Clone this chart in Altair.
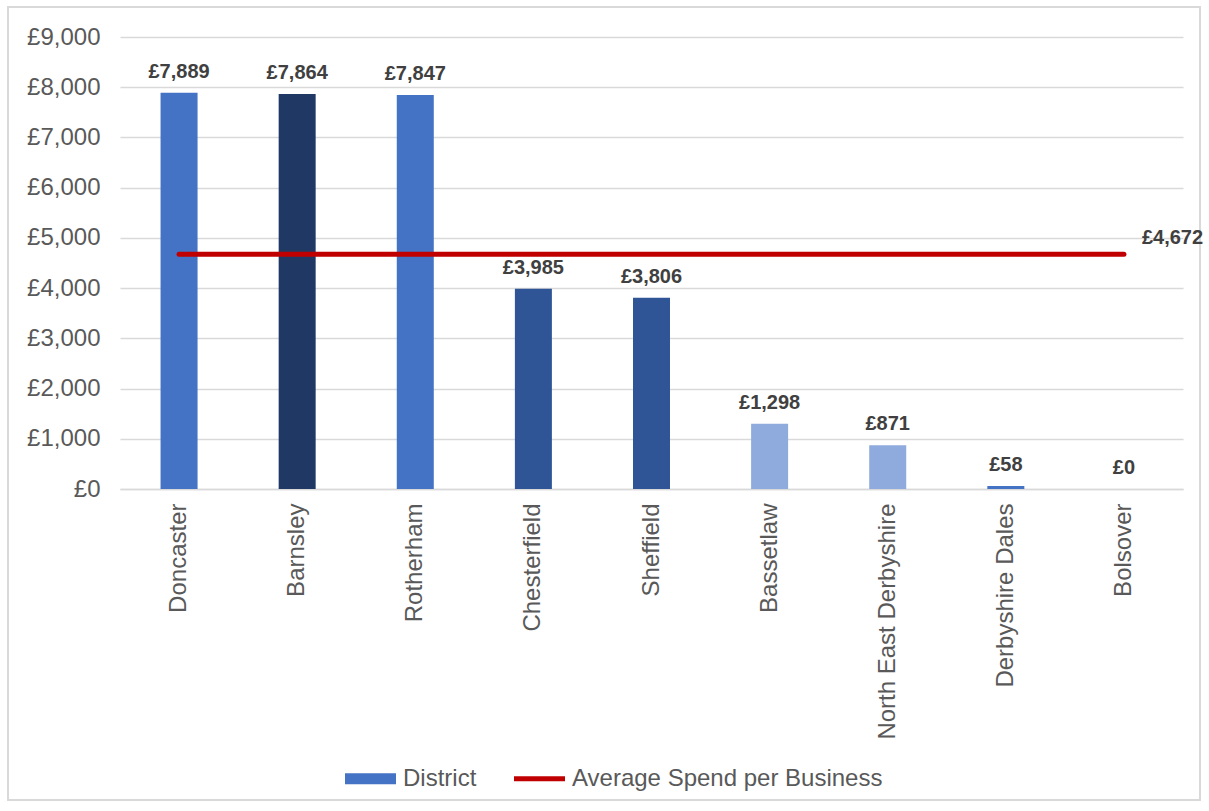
import altair as alt
import pandas as pd

# ---- data ----
DISTRICTS = ["Doncaster", "Barnsley", "Rotherham", "Chesterfield", "Sheffield",
             "Bassetlaw", "North East Derbyshire", "Derbyshire Dales", "Bolsover"]
SPEND = [7889, 7864, 7847, 3985, 3806, 1298, 871, 58, 0]
AVERAGE = 4672
Y_TICKS = [0, 1000, 2000, 3000, 4000, 5000, 6000, 7000, 8000, 9000]
LEGEND_ITEMS = ["District", "Average Spend per Business"]

# ---- styles ----
BAR_COLOURS = ["#4472C4", "#203864", "#4472C4", "#2F5597", "#2F5597",
               "#8FAADC", "#8FAADC", "#4472C4", "#8FAADC"]
LEGEND_COLOURS = ["#4472C4", "#C00000"]
LEGEND_SHAPES = ["M-1,-0.22H1V0.22H-1Z", "M-1,-0.1H1V0.1H-1Z"]
FONT = "Liberation Sans"
GRID = "#D9D9D9"
TEXT = "#595959"

df = pd.DataFrame({
    "district": DISTRICTS,
    "spend": SPEND,
    "colour": BAR_COLOURS,
    "average": [AVERAGE] * len(DISTRICTS),
})
legend_df = pd.DataFrame({"series": LEGEND_ITEMS})

W, H = 1063, 452

x_enc = alt.X("district:N", sort=DISTRICTS, title=None,
              scale=alt.Scale(paddingInner=0.0, paddingOuter=0.0),
              axis=alt.Axis(labelAngle=-90, labelAlign="right", labelBaseline="middle",
                            labelPadding=14, ticks=False, domainColor=GRID, domainWidth=1.5,
                            labelFontSize=24, labelColor=TEXT, labelFont=FONT, grid=False,
                            labelLimit=0))
y_scale = alt.Scale(domain=[0, 9000], nice=False)
y_enc = alt.Y("spend:Q", scale=y_scale, title=None,
              axis=alt.Axis(values=Y_TICKS, labelExpr="'£' + format(datum.value, ',')",
                            ticks=False, domain=False, gridColor=GRID, gridWidth=1.5,
                            labelFontSize=24, labelColor=TEXT, labelFont=FONT, labelPadding=20))

base = alt.Chart(df)

border = base.mark_rect(fill=None, stroke=GRID, strokeWidth=2, clip=False).encode(
    x=alt.value(-112), x2=alt.value(1080), y=alt.value(-30), y2=alt.value(763)
).transform_filter(alt.datum.district == DISTRICTS[0])

bars = base.mark_bar(size=37).encode(
    x=x_enc, y=y_enc, fill=alt.Fill("colour:N", scale=None, legend=None)
)

labels = base.mark_text(font=FONT, fontSize=20, fontWeight="bold", color="#404040",
                        baseline="alphabetic", dy=-15).encode(
    x=alt.X("district:N", sort=DISTRICTS),
    y=alt.Y("spend:Q", scale=y_scale),
    text="label:N",
).transform_calculate(label="'£' + format(datum.spend, ',')")

line = base.mark_line(color="#C00000", strokeWidth=5, strokeCap="round").encode(
    x=alt.X("district:N", sort=DISTRICTS),
    y=alt.Y("average:Q", scale=y_scale),
)

avg_label = base.mark_text(font=FONT, fontSize=20, fontWeight="bold", color="#404040",
                           align="left", baseline="alphabetic", dx=18, dy=-10).encode(
    x=alt.X("district:N", sort=DISTRICTS),
    y=alt.Y("average:Q", scale=y_scale),
    text="label:N",
).transform_filter(alt.datum.district == DISTRICTS[-1]).transform_calculate(
    label="'£' + format(datum.average, ',')")

legend_layer = alt.Chart(legend_df).mark_point(filled=True, opacity=1).encode(
    color=alt.Color("series:N", scale=alt.Scale(domain=LEGEND_ITEMS, range=LEGEND_COLOURS),
                    title=None),
    shape=alt.Shape("series:N", scale=alt.Scale(domain=LEGEND_ITEMS, range=LEGEND_SHAPES),
                    title=None),
).transform_filter("false")

chart = alt.layer(border, bars, labels, line, avg_label, legend_layer).properties(
    width=W, height=H,
    autosize=alt.AutoSizeParams(type="none"),
    padding={"left": 120, "top": 37, "right": 26, "bottom": 322},
    background="white",
).configure_view(stroke=None).configure_legend(
    orient="none", legendX=225, legendY=716, direction="horizontal",
    labelFontSize=24, labelFont=FONT, labelColor=TEXT,
    symbolSize=2601, symbolOpacity=1, symbolStrokeWidth=0,
    labelOffset=7, columnPadding=37, padding=0, labelLimit=0,
)

chart.save("out.html", embed_options={"renderer": "svg", "actions": False})
